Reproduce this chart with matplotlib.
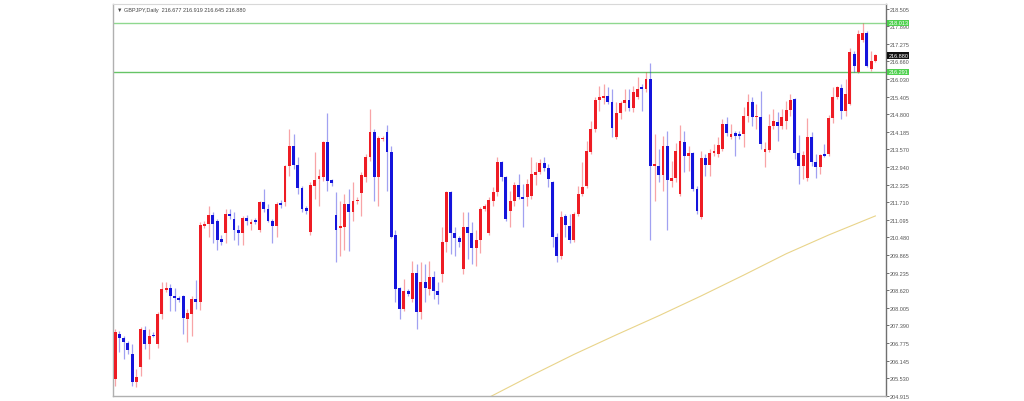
import matplotlib
matplotlib.use("Agg")
from matplotlib import pyplot as plt
from matplotlib import transforms

# GBPJPY daily candles, oldest first
opens = [205.50, 207.09, 206.95, 206.77, 206.38, 205.40, 205.93, 207.23, 206.73, 207.05,
         206.73, 207.79, 208.64, 208.71, 208.42, 208.35, 208.42, 207.61, 207.79, 208.32,
         208.21, 210.88, 210.95, 211.27, 211.06, 210.43, 210.64, 211.31, 211.13, 210.75,
         210.64, 211.16, 210.95, 211.09, 210.75, 211.72, 211.48, 211.06, 210.88, 211.69,
         211.72, 212.99, 213.69, 213.02, 212.21, 211.51, 210.68, 212.29, 212.53, 212.60,
         213.83, 212.50, 211.27, 210.81, 210.84, 211.65, 211.37, 211.76, 212.04, 212.60,
         213.30, 214.18, 212.60, 213.94, 214.18, 213.48, 210.57, 208.70, 207.96, 208.60,
         208.32, 209.22, 207.86, 208.92, 208.67, 209.07, 208.60, 209.19, 210.33, 212.07,
         210.64, 210.47, 209.36, 210.84, 210.64, 210.12, 210.40, 211.48, 210.64, 211.76,
         212.07, 213.13, 212.60, 211.41, 211.76, 212.32, 211.90, 211.90, 211.93, 212.67,
         212.78, 213.09, 212.92, 212.43, 210.50, 209.83, 211.23, 210.88, 210.40, 211.30,
         212.00, 212.29, 213.48, 214.29, 215.31, 215.38, 215.45, 215.24, 214.01, 214.85,
         215.20, 215.31, 215.03, 215.41, 215.76, 215.69, 216.05, 212.99, 212.99, 212.67,
         213.69, 212.46, 212.57, 212.00, 213.83, 213.34, 213.44, 212.18, 211.20, 213.27,
         213.02, 213.44, 213.41, 213.59, 214.46, 214.01, 214.15, 214.11, 214.11, 214.75,
         215.24, 214.71, 214.71, 213.48, 213.55, 214.39, 214.54, 214.39, 214.57, 214.96,
         215.34, 213.44, 212.99, 212.57, 214.01, 213.13, 212.95, 213.41, 213.41, 214.68,
         215.41, 215.73, 214.92, 215.17, 216.92, 216.29, 217.42, 217.66, 216.40, 216.677]
highs = [207.26, 207.19, 207.02, 206.83, 206.73, 205.86, 207.33, 207.37, 207.26, 207.16,
         207.86, 208.92, 208.89, 208.84, 208.71, 208.42, 208.46, 207.96, 208.42, 208.98,
         211.02, 211.06, 211.58, 211.37, 211.13, 210.57, 211.49, 211.46, 211.37, 210.92,
         211.23, 211.27, 211.13, 211.16, 211.76, 212.18, 211.65, 211.13, 211.72, 211.79,
         213.02, 214.29, 214.11, 213.30, 212.29, 211.58, 212.43, 213.48, 212.88, 213.87,
         214.84, 212.53, 212.07, 211.76, 212.00, 212.18, 212.43, 211.90, 212.78, 213.41,
         214.99, 214.29, 214.04, 214.04, 214.43, 213.69, 210.75, 208.74, 209.01, 208.67,
         209.65, 209.54, 209.62, 209.54, 209.65, 209.29, 208.89, 210.84, 212.11, 212.11,
         210.84, 210.54, 211.37, 211.37, 211.02, 210.75, 211.55, 211.65, 211.90, 212.25,
         213.30, 213.16, 212.64, 212.11, 212.43, 212.71, 212.36, 212.53, 213.30, 213.13,
         213.23, 213.30, 213.05, 212.46, 210.64, 211.41, 211.30, 211.30, 211.37, 212.29,
         213.13, 213.87, 214.57, 215.41, 215.80, 215.87, 215.76, 215.69, 215.24, 215.27,
         215.69, 215.69, 215.80, 216.12, 215.87, 216.29, 216.61, 214.11, 213.59, 214.04,
         214.22, 213.16, 213.80, 214.43, 214.22, 213.69, 213.48, 212.29, 213.51, 213.41,
         213.59, 213.76, 214.01, 214.64, 214.71, 214.46, 214.22, 214.22, 215.06, 215.52,
         215.41, 215.17, 215.62, 213.83, 214.81, 214.99, 214.89, 214.99, 215.27, 215.52,
         215.38, 214.08, 213.51, 214.67, 214.18, 213.41, 213.41, 213.76, 214.78, 215.76,
         215.80, 215.87, 216.05, 217.13, 217.03, 217.77, 218.01, 217.73, 217.03, 216.919]
lows = [205.26, 206.45, 206.21, 206.38, 205.26, 205.22, 205.61, 206.56, 206.21, 206.98,
        206.59, 207.61, 208.56, 207.89, 207.89, 208.21, 207.09, 206.80, 207.02, 207.96,
        207.93, 210.81, 210.50, 210.29, 210.04, 210.22, 210.29, 211.13, 210.40, 210.22,
        210.22, 210.92, 210.75, 210.95, 210.68, 211.37, 211.02, 210.29, 210.50, 211.51,
        211.58, 212.64, 212.88, 212.00, 211.37, 211.31, 210.57, 211.83, 211.58, 212.46,
        212.11, 212.29, 209.62, 209.83, 210.04, 210.01, 211.06, 211.65, 211.23, 212.43,
        213.16, 211.76, 211.58, 213.87, 212.11, 210.47, 208.21, 207.61, 207.89, 208.42,
        208.21, 207.26, 207.61, 208.21, 208.46, 208.32, 208.14, 208.92, 209.97, 209.90,
        209.83, 210.15, 209.19, 209.72, 209.54, 209.47, 209.94, 211.41, 210.57, 211.58,
        211.93, 212.46, 211.06, 210.84, 211.58, 211.83, 210.84, 211.58, 211.83, 212.32,
        212.71, 212.81, 212.25, 210.15, 209.62, 209.72, 210.50, 210.29, 210.33, 211.23,
        211.93, 212.21, 213.41, 214.18, 214.92, 215.17, 215.17, 214.01, 213.94, 214.64,
        214.92, 214.92, 214.89, 215.34, 214.92, 215.59, 210.40, 211.76, 212.43, 212.11,
        210.75, 212.25, 212.43, 211.93, 212.78, 212.81, 212.11, 211.30, 211.13, 212.64,
        212.64, 213.34, 213.30, 213.51, 214.04, 213.94, 213.34, 213.94, 213.66, 214.54,
        214.39, 214.29, 213.59, 212.95, 213.48, 214.29, 213.87, 214.29, 214.29, 214.75,
        213.23, 212.36, 212.53, 212.46, 212.99, 212.57, 212.71, 213.30, 213.34, 214.50,
        215.34, 214.64, 214.75, 215.13, 216.29, 216.26, 217.35, 216.47, 216.33, 216.645]
closes = [207.16, 206.95, 206.80, 206.52, 205.40, 205.58, 207.26, 206.73, 207.02, 207.02,
          207.79, 208.67, 208.71, 208.42, 208.35, 208.28, 207.65, 207.82, 208.32, 208.21,
          210.92, 210.95, 211.27, 210.95, 210.40, 210.33, 211.31, 211.24, 210.75, 210.64,
          211.16, 211.06, 211.02, 211.02, 211.72, 211.48, 211.06, 210.88, 211.65, 211.62,
          212.99, 213.69, 213.02, 212.21, 211.48, 211.41, 212.32, 212.50, 212.64, 213.83,
          212.46, 212.39, 210.75, 210.88, 211.65, 211.37, 211.76, 211.79, 212.67, 213.30,
          214.18, 212.60, 213.97, 213.97, 213.48, 210.50, 208.67, 207.96, 208.60, 208.49,
          209.22, 207.86, 208.92, 208.71, 209.07, 208.60, 208.46, 210.33, 212.07, 210.64,
          210.47, 210.33, 210.84, 210.64, 210.12, 210.40, 211.48, 211.58, 211.79, 212.07,
          213.13, 212.60, 211.13, 211.76, 212.32, 211.90, 211.83, 212.36, 212.71, 212.78,
          213.09, 212.92, 212.53, 210.50, 209.83, 211.20, 210.92, 210.40, 211.30, 212.00,
          212.25, 213.51, 214.29, 215.31, 215.41, 215.45, 215.24, 214.32, 214.85, 215.20,
          215.31, 215.03, 215.59, 215.69, 215.69, 216.05, 212.99, 213.06, 212.67, 213.69,
          212.50, 212.57, 213.51, 213.87, 213.34, 213.44, 212.18, 211.41, 213.27, 213.02,
          213.44, 213.51, 213.73, 214.46, 214.15, 214.11, 214.04, 214.04, 214.75, 215.24,
          214.71, 214.75, 213.76, 213.59, 214.39, 214.57, 214.39, 214.71, 214.96, 215.31,
          213.44, 212.99, 213.37, 214.01, 213.13, 212.95, 213.37, 213.34, 214.68, 215.41,
          215.76, 214.92, 215.52, 216.99, 216.50, 217.63, 217.66, 216.50, 216.68, 216.880]

# long moving average (only its visible part), sampled by bar number
ma_bars = [88, 98, 108, 118, 128, 138, 148, 158, 168, 179]
ma_values = [204.85, 205.62, 206.36, 207.05, 207.72, 208.42, 209.15, 209.90, 210.56, 211.23]

resistance = 218.013
support = 216.291
last_price = 216.880

tick_labels = ["218.505", "217.890", "217.275", "216.660", "216.030", "215.405", "214.800",
               "214.185", "213.570", "212.940", "212.325", "211.710", "211.095", "210.480",
               "209.865", "209.235", "208.620", "208.005", "207.390", "206.775", "206.145",
               "205.530", "204.915"]

plt.rcParams["font.family"] = ["Liberation Sans", "DejaVu Sans"]

fig = plt.figure(figsize=(10.24, 4.02), dpi=100)
ax = fig.add_axes([113 / 1024, 5 / 402, 773 / 1024, 392 / 402])

bull = "#ee1c24"
bear = "#1414dc"
for i in range(len(opens)):
    o, h, l, c = opens[i], highs[i], lows[i], closes[i]
    col = bull if c >= o else bear
    ax.vlines(i, l, h, color=col, linewidth=0.9, alpha=0.4, zorder=2)
    body = max(abs(c - o), 0.03)
    ax.bar(i, body, bottom=min(o, c), width=0.68, color=col, linewidth=0, zorder=3)

ax.plot(ma_bars, ma_values, color="#e9d48a", linewidth=0.8, zorder=1)

ax.axhline(resistance, color="#8fd88f", linewidth=1.0, zorder=1)
ax.axhline(support, color="#66c466", linewidth=1.0, zorder=1)

ax.set_xlim(-0.5, 181.5)
ax.set_ylim(204.9, 218.68)
ax.set_xticks([])

ax.yaxis.tick_right()
ax.set_yticks([float(t) for t in tick_labels])
ax.set_yticklabels(tick_labels)
ax.tick_params(axis="y", length=2, width=0.6, pad=1, labelsize=4, colors="#555555")

for side in ["left", "bottom"]:
    ax.spines[side].set_color("#b0b0b0")
    ax.spines[side].set_linewidth(1.0)
ax.spines["top"].set_color("#d8d8d8")
ax.spines["top"].set_linewidth(0.8)
ax.spines["right"].set_color("#707070")
ax.spines["right"].set_linewidth(1.0)

trans = transforms.blended_transform_factory(ax.transAxes, ax.transData)
for val, bg, fg in [(resistance, "#4fd04f", "white"), (support, "#4fd04f", "white"),
                    (last_price, "#111111", "white")]:
    ax.text(1.003, val, f"{val:.3f}", transform=trans, fontsize=4, color=fg,
            ha="left", va="center", zorder=5, clip_on=False,
            bbox=dict(boxstyle="square,pad=0.15", facecolor=bg, edgecolor="none"))

ax.text(0.005, 0.987, "\u25bc GBPJPY,Daily  216.677 216.919 216.645 216.880",
        transform=ax.transAxes, fontsize=4, color="#444444", ha="left", va="center",
        family=["Liberation Sans", "DejaVu Sans"])

fig.savefig("out.png", dpi=100)
